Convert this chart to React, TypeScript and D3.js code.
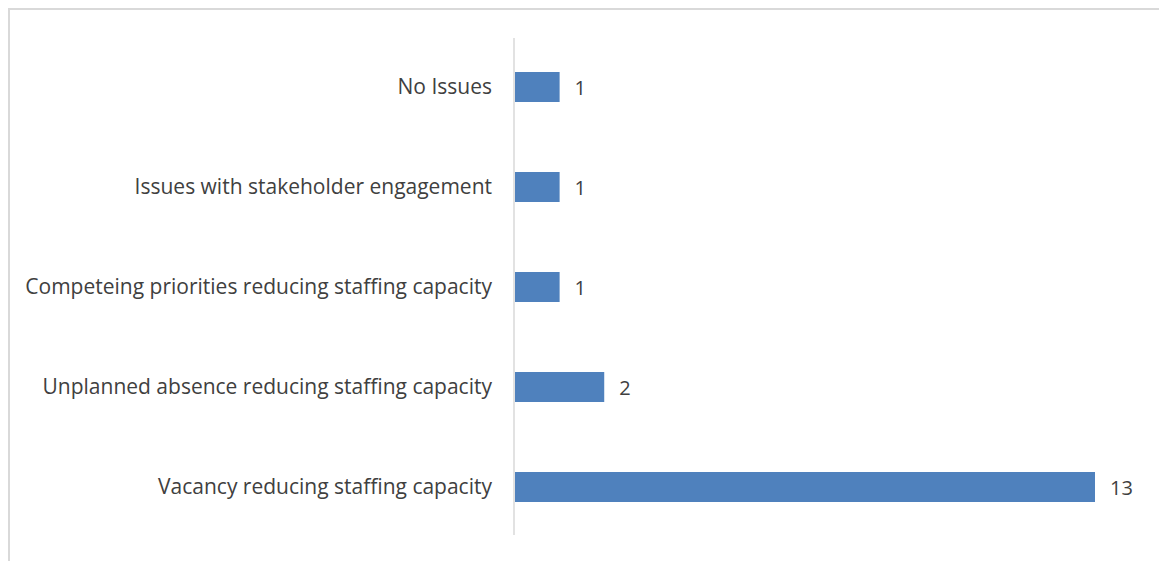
import * as d3 from 'd3';

const categories = [
  'No Issues',
  'Issues with stakeholder engagement',
  'Competeing priorities reducing staffing capacity',
  'Unplanned absence reducing staffing capacity',
  'Vacancy reducing staffing capacity',
];
const counts = [1, 1, 1, 2, 13];

const W = 1159;
const H = 553;

export default function App() {
  // svg sits at the body's 8px margin, so everything here is page coords minus 8
  const x = d3.scaleLinear().domain([0, 13]).range([507, 1087]);
  const y = d3.scaleBand<string>().domain(categories).range([29, 529]).paddingInner(0.7).paddingOuter(0.35);

  return (
    <svg width={W} height={H} style={{ display: 'block', fontFamily: '"Open Sans", sans-serif' }}>
      <rect x={1} y={1} width={W + 20} height={H + 20} fill="#fff" stroke="#d9d9d9" strokeWidth={2} />
      <line x1={x(0) - 1} x2={x(0) - 1} y1={30} y2={527} stroke="#d9d9d9" strokeWidth={1.5} />
      {categories.map((c, i) => (
        <g key={c}>
          <rect x={x(0)} y={y(c)} width={x(counts[i]) - x(0)} height={y.bandwidth()} fill="#4f81bd" />
          <text
            x={x(0) - 23}
            y={(y(c) ?? 0) + y.bandwidth() / 2}
            dy="0.35em"
            textAnchor="end"
            fontSize={21}
            fill="#404040"
          >
            {c}
          </text>
          <text
            x={x(counts[i]) + 15}
            y={(y(c) ?? 0) + y.bandwidth() / 2}
            dy="0.38em"
            fontSize={20}
            fill="#404040"
          >
            {counts[i]}
          </text>
        </g>
      ))}
    </svg>
  );
}
